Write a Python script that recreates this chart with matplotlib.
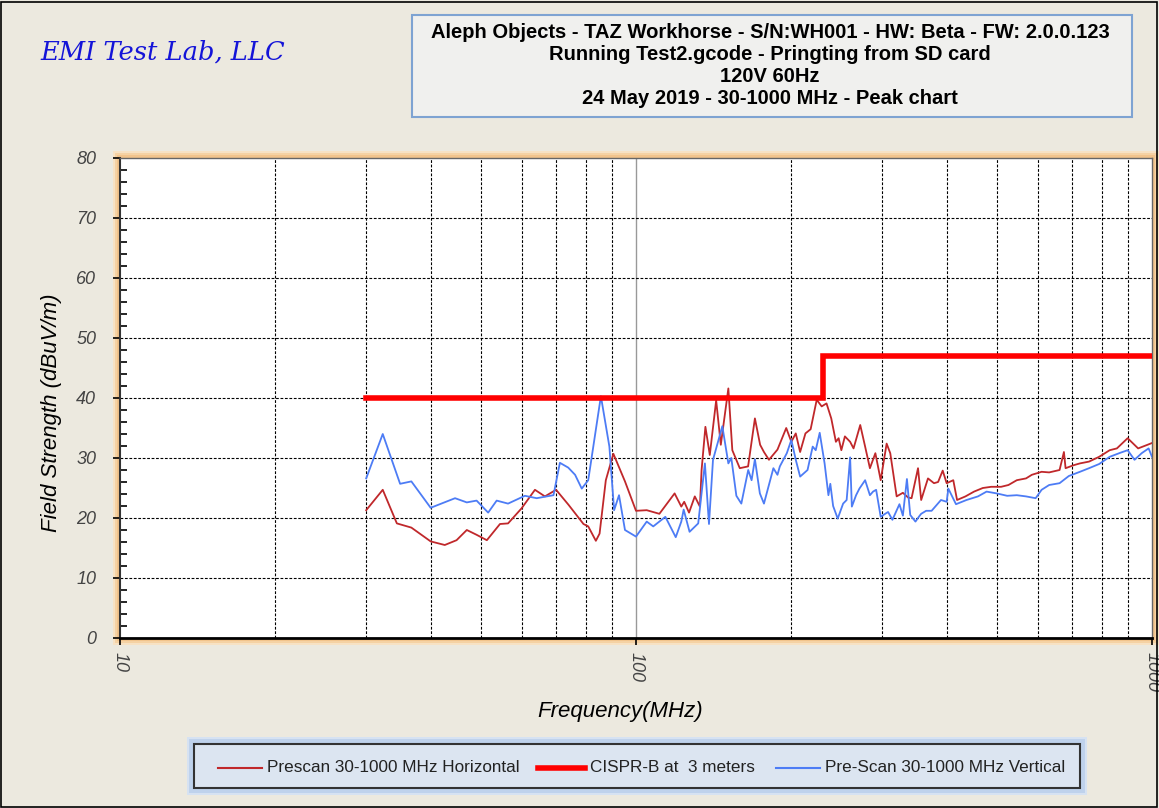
import numpy as np
import matplotlib
matplotlib.use('Agg')
import matplotlib.pyplot as plt
from matplotlib.patches import Rectangle
from matplotlib.lines import Line2D
from matplotlib.ticker import FixedLocator, NullFormatter

# prescan, horizontal antenna (MHz, dBuV/m)
horiz_freq = [30, 32.3, 34.4, 36.7, 40, 42.6, 44.9, 47, 49.1, 51.4, 54.5, 56.5, 60, 63.7, 66.6,
              70, 74, 79.1, 80.8, 83.6, 85, 87.4, 90.4, 95.2, 100, 104.9, 111, 118.8, 122.4, 124,
              126.7, 130, 133, 134, 136.3, 139, 143, 146, 151, 153.7, 158.9, 164.9, 170, 174, 177,
              181, 188, 195.5, 200, 204, 208, 213, 218, 224, 229, 234, 239, 244, 247, 250,
              254, 260, 264, 272, 278, 284, 291, 298, 306, 311, 320, 329, 337, 342, 352,
              357, 368, 378, 385, 393, 400, 412, 419, 435, 452, 470, 488, 510, 527, 547,
              570, 585, 611, 632, 662, 675, 680, 705, 725, 755, 790, 828, 855, 897, 940,
              980, 1000]
horiz_level = [21.3, 24.7, 19.1, 18.4, 16.1, 15.5, 16.3, 18.0, 17.2, 16.3, 19.0, 19.1, 21.6, 24.7, 23.6,
               24.7, 22.2, 19.0, 18.6, 16.2, 17.4, 26.3, 30.7, 26.1, 21.2, 21.3, 20.7, 24.1, 21.9, 22.7,
               20.9, 23.6, 21.9, 28.0, 35.2, 30.5, 39.6, 32.2, 41.6, 31.3, 28.3, 28.6, 36.6, 32.2, 31.0,
               29.7, 31.4, 35.0, 32.7, 34.1, 31.0, 34.1, 34.8, 39.7, 38.6, 39.1, 36.6, 32.7, 33.3, 31.3,
               33.6, 32.7, 31.6, 35.5, 31.9, 28.3, 30.8, 26.3, 32.4, 30.8, 23.6, 24.2, 23.4, 23.3, 28.3,
               23.0, 26.6, 25.8, 26.0, 27.9, 25.8, 26.3, 23.0, 23.6, 24.4, 25.0, 25.2, 25.2, 25.5, 26.3,
               26.6, 27.2, 27.7, 27.6, 28.0, 31.0, 28.3, 28.8, 29.1, 29.4, 30.2, 31.3, 31.6, 33.3, 31.6,
               32.2, 32.5]

# prescan, vertical antenna
vert_freq = [30, 32.3, 34.9, 36.7, 40, 44.6, 47, 49.1, 51.7, 53.7, 56.5, 60.9, 64.2, 69.2, 71.2,
             73.9, 76.2, 78.5, 80.8, 85.5, 88.8, 90.7, 92.7, 95.2, 100, 104.9, 108, 114, 119.4, 122.4,
             123.7, 127, 132, 136, 138.5, 141, 147, 151, 153, 156.5, 160, 165, 167.5, 170, 173.8,
             177, 184.6, 188, 190, 196, 200, 204, 208, 215, 220, 223, 227, 232, 236, 238,
             241, 246, 252, 256, 260, 262, 267, 271, 278, 284, 288, 292, 298, 304, 308,
             314, 324, 329, 335, 340, 348, 354, 357, 365, 374, 390, 400, 403, 417, 437,
             460, 478, 500, 524, 547, 570, 595, 611, 632, 662, 690, 725, 755, 790, 828,
             870, 897, 925, 955, 985, 1000]
vert_level = [26.6, 34.0, 25.7, 26.1, 21.7, 23.3, 22.6, 22.9, 20.9, 22.9, 22.4, 23.7, 23.3, 23.8, 29.2,
              28.4, 27.2, 24.9, 26.3, 40.3, 31.9, 21.3, 23.8, 18.0, 16.9, 19.4, 18.6, 20.2, 16.8, 19.4,
              21.4, 17.7, 19.1, 29.1, 19.0, 29.7, 35.3, 29.1, 30.0, 23.7, 22.4, 28.0, 26.3, 29.8, 24.1,
              22.4, 28.3, 27.2, 28.6, 30.8, 33.0, 29.7, 26.9, 28.0, 31.9, 31.3, 34.2, 29.1, 23.8, 25.7,
              22.0, 19.9, 22.4, 23.0, 30.1, 21.9, 23.8, 24.9, 26.3, 23.8, 24.4, 24.7, 20.2, 20.7, 21.0,
              19.7, 22.3, 20.4, 26.5, 20.5, 19.4, 20.3, 20.7, 21.2, 21.2, 23.0, 22.7, 24.9, 22.3, 23.0,
              23.6, 24.4, 24.1, 23.7, 23.8, 23.6, 23.3, 24.7, 25.5, 25.8, 27.0, 27.7, 28.3, 29.0, 30.2,
              30.9, 31.3, 29.7, 30.8, 31.6, 30.2]

# CISPR-B limit at 3 m
limit_freq = [30, 230, 230, 1000]
limit_level = [40, 40, 47, 47]

title_lines = ['Aleph Objects - TAZ Workhorse - S/N:WH001 - HW: Beta - FW: 2.0.0.123',
               'Running Test2.gcode - Pringting from SD card',
               '120V 60Hz',
               '24 May 2019 - 30-1000 MHz - Peak chart']
series_names = ['Prescan 30-1000 MHz Horizontal', 'CISPR-B at  3 meters', 'Pre-Scan 30-1000 MHz Vertical']

W, H = 1159, 808
bg = '#ECE9DF'
fig = plt.figure(figsize=(W / 100, H / 100), dpi=100, facecolor=bg)
plt.rcParams['font.family'] = ['Liberation Sans', 'DejaVu Sans']

def fx(px):
    return px / W

def fy(py):
    return 1 - py / H

# outer border
fig.add_artist(Rectangle((0.0005, 0.001), 0.998, 0.997, transform=fig.transFigure,
                         fill=False, edgecolor='black', lw=1.2))

# logo
fig.text(fx(40), fy(52), 'EMI Test Lab, LLC', color='#1414D8', fontsize=18.5,
         family='DejaVu Serif', style='italic', va='center', ha='left')

# title box
fig.add_artist(Rectangle((fx(412), fy(117)), fx(1132 - 412), (117 - 15) / H, transform=fig.transFigure,
                         facecolor='#F0F0EE', edgecolor='#7EA3D2', lw=1.5))
for i, line in enumerate(title_lines):
    fig.text(fx(770), fy(32.5 + i * 22), line, ha='center', va='center', fontsize=14.5,
             fontweight='bold', color='black')

# orange glow behind plot area
left, right, top, bottom = 120, 1152, 158, 638
for k, c in enumerate(['#F7E2C4', '#F5D2A4', '#F2C48C']):
    g = 7 - 2 * k
    fig.add_artist(Rectangle((fx(left - g), fy(bottom + g)), fx(right - left + 2 * g), (bottom - top + 2 * g) / H,
                             transform=fig.transFigure, facecolor=c, edgecolor='none', zorder=0))

ax = fig.add_axes([fx(left), fy(bottom), fx(right - left), (bottom - top) / H])
ax.set_facecolor('white')
ax.set_xscale('log')
ax.set_xlim(10, 1000)
ax.set_ylim(0, 80)

# grid
minor_x = [20, 30, 40, 50, 60, 70, 80, 90, 200, 300, 400, 500, 600, 700, 800, 900]
for xv in minor_x:
    ax.axvline(xv, color='black', lw=0.8, ls=(0, (2.5, 1.5)), zorder=1)
ax.axvline(100, color='#999999', lw=1.0, zorder=1)
for yv in range(10, 80, 10):
    ax.axhline(yv, color='black', lw=0.8, ls=(0, (2.5, 1.5)), zorder=1)

ax.plot(horiz_freq, horiz_level, color='#C0282B', lw=1.3, zorder=3)
ax.plot(vert_freq, vert_level, color='#4D7CF5', lw=1.3, zorder=3)
ax.plot(limit_freq, limit_level, color='#FF0000', lw=4, zorder=4, solid_joinstyle='miter')

# axes styling
for s in ['top', 'right']:
    ax.spines[s].set_color('#666666')
    ax.spines[s].set_linewidth(1.0)
ax.spines['left'].set_color('#333333')
ax.spines['left'].set_linewidth(1.5)
ax.spines['bottom'].set_color('black')
ax.spines['bottom'].set_linewidth(2.0)

ax.yaxis.set_major_locator(FixedLocator(range(0, 81, 10)))
ax.yaxis.set_minor_locator(FixedLocator([v for v in range(0, 81, 2) if v % 10]))
ax.tick_params(axis='y', which='major', direction='out', length=5, width=1.2, color='black',
               labelsize=13, labelcolor='#444444', pad=12)
ax.tick_params(axis='y', which='minor', direction='in', length=5, width=1.2, color='black')
for lab in ax.get_yticklabels():
    lab.set_fontstyle('italic')

ax.xaxis.set_major_locator(FixedLocator([10, 100, 1000]))
ax.xaxis.set_minor_locator(FixedLocator(minor_x))
ax.xaxis.set_minor_formatter(NullFormatter())
ax.set_xticklabels(['10', '100', '1000'])
ax.tick_params(axis='x', which='major', direction='out', length=5, width=1.2, color='black',
               labelsize=13, labelcolor='#444444', pad=5, labelrotation=270)
ax.tick_params(axis='x', which='minor', length=0)
for lab in ax.get_xticklabels():
    lab.set_fontstyle('italic')
    lab.set_va('top')

fig.text(fx(620), fy(711), 'Frequency(MHz)', ha='center', va='center', fontsize=16,
         style='italic', color='black')
fig.text(fx(52), fy(413), 'Field Strength (dBuV/m)', ha='center', va='center', fontsize=16,
         style='italic', color='black', rotation=90)

# legend box
for k, c in enumerate(['#D6E2F2', '#BFD2EC']):
    g = 5 - 2 * k
    fig.add_artist(Rectangle((fx(192 - g), fy(790 + g)), fx(1082 - 192 + 2 * g), (790 - 742 + 2 * g) / H,
                             transform=fig.transFigure, facecolor=c, edgecolor='none'))
fig.add_artist(Rectangle((fx(194), fy(788)), fx(1080 - 194), (788 - 744) / H,
                         transform=fig.transFigure, facecolor='#DCE5F1', edgecolor='#333333', lw=1.5))
handles = [('#C0282B', 1.5, 218, 262), ('#FF0000', 4, 538, 585), ('#4D7CF5', 1.5, 776, 820)]
text_x = [267, 590, 825]
for (c, lw, x0, x1), tx, name in zip(handles, text_x, series_names):
    fig.add_artist(Line2D([fx(x0), fx(x1)], [fy(768), fy(768)], transform=fig.transFigure,
                          color=c, lw=lw))
    fig.text(fx(tx), fy(768), name, ha='left', va='center', fontsize=12.3, color='#222222')

fig.savefig('out.png', dpi=100, facecolor=bg)
